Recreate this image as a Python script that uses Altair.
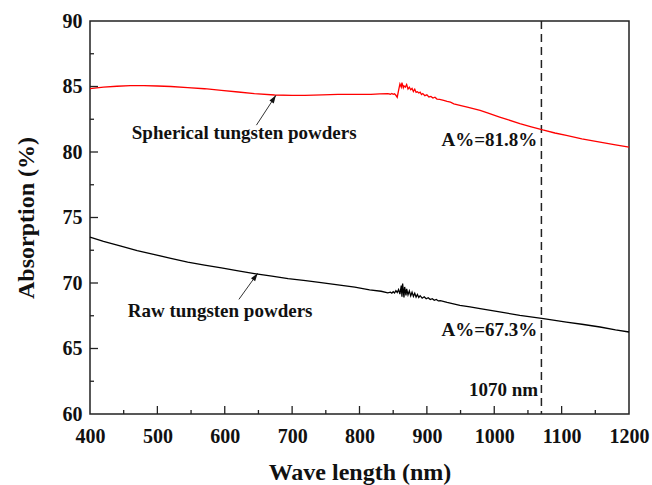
import altair as alt
import pandas as pd

# ---- data ----
red_wl = [400, 420, 440, 460, 480, 500, 520, 545, 570, 595, 620, 644, 674, 700, 719, 745, 768, 790, 817, 830, 842,
          846, 848, 850, 852, 854, 856, 858, 860, 862, 863, 865, 866, 868, 870, 872, 874, 876, 878, 880, 882, 884,
          886, 888, 890, 892, 894, 897, 900, 903, 906, 909, 912, 915, 919, 925, 930, 935, 940, 949, 960, 979, 990,
          1008, 1020, 1038, 1055, 1072, 1090, 1107, 1130, 1157, 1180, 1200]
red_abs = [84.84, 84.95, 85.02, 85.06, 85.07, 85.04, 85.0, 84.92, 84.83, 84.71, 84.58, 84.45, 84.35, 84.33, 84.33,
           84.36, 84.40, 84.40, 84.40, 84.44, 84.45,
           84.41, 84.47, 84.40, 84.44, 84.33, 84.18, 84.7, 85.2, 84.95, 85.3, 84.9, 85.05, 84.95, 85.15, 84.8, 84.95,
           84.75, 84.85, 84.62, 84.8, 84.55, 84.6, 84.5, 84.56, 84.38, 84.46, 84.3, 84.36, 84.2, 84.24, 84.12, 84.18,
           84.04, 84.02, 83.94, 83.86, 83.8, 83.68, 83.56, 83.42, 83.18, 82.98,
           82.67, 82.47, 82.17, 81.92, 81.68, 81.45, 81.27, 81.00, 80.76, 80.55, 80.38]

black_wl = [400, 420, 446, 470, 496, 520, 545, 570, 595, 620, 644, 670, 694, 720, 743, 768, 793, 815, 832, 842,
            846, 848, 850, 852, 854, 856, 858, 860, 862, 863, 864, 866, 867, 869, 870, 872, 874, 876, 878, 880, 882,
            884, 886, 888, 890, 893, 896, 899, 902, 905, 908, 911, 914, 917, 920, 930, 949, 964, 979, 1008, 1038,
            1073, 1107, 1130, 1157, 1180, 1200]
black_abs = [73.5, 73.18, 72.82, 72.48, 72.17, 71.88, 71.6, 71.37, 71.15, 70.93, 70.72, 70.52, 70.33, 70.18, 70.03,
             69.86, 69.69, 69.48, 69.37, 69.25,
             69.3, 69.22, 69.33, 69.24, 69.42, 69.28, 69.5, 69.15, 69.8, 68.95, 69.95, 68.9, 69.7, 69.05, 69.55, 69.1,
             69.4, 69.02, 69.3, 68.98, 69.22, 68.92, 69.12, 68.9, 69.03, 68.84, 68.95, 68.8, 68.88, 68.74, 68.8,
             68.68, 68.74, 68.63, 68.65, 68.52, 68.3, 68.17, 68.04, 67.79, 67.53,
             67.28, 67.02, 66.85, 66.64, 66.42, 66.26]

series_names = ["Spherical tungsten powders", "Raw tungsten powders"]
series_colors = ["#ff0000", "#000000"]

x_ticks = [400, 500, 600, 700, 800, 900, 1000, 1100, 1200]
y_ticks = [60, 65, 70, 75, 80, 85, 90]
x_major_inner = [500, 600, 700, 800, 900, 1000, 1100]
x_minor_inner = [450, 550, 650, 750, 850, 950, 1050, 1150]
y_major_inner = [65, 70, 75, 80, 85]
y_minor_inner = [62.5, 67.5, 72.5, 77.5, 82.5, 87.5]

marker_wl = [1070]

left_labels = ["Spherical tungsten powders", "Raw tungsten powders"]
left_label_x = [462, 456]
left_label_y = [81.45, 67.84]

right_labels = ["A%=81.8%", "A%=67.3%", "1070 nm"]
right_label_x = [1064, 1064, 1065]
right_label_y = [80.89, 66.42, 61.81]

arrow_x_tail = [647, 621]
arrow_y_tail = [82.05, 68.75]
arrow_x_tip = [676, 649]
arrow_y_tip = [84.33, 70.75]
arrow_angle = [33, 36]

# ---- tables ----
curves = pd.concat([
    pd.DataFrame({"wl": red_wl, "a": red_abs, "s": series_names[0]}),
    pd.DataFrame({"wl": black_wl, "a": black_abs, "s": series_names[1]}),
])
W, H = 539, 393
FONT = "Liberation Serif"
XT = "Wave length (nm)"
YT = "Absorption (%)"

xs = alt.Scale(domain=[400, 1200], nice=False, zero=False)
ys = alt.Scale(domain=[60, 90], nice=False, zero=False)
xaxis = alt.Axis(values=x_ticks, format="d", labelOverlap=False, labelFlush=False,
                 ticks=False, tickSize=0, domain=False, grid=False,
                 labelPadding=12, titleY=46, titleBaseline="top")
yaxis = alt.Axis(values=y_ticks, format="d", labelOverlap=False, labelFlush=False,
                 ticks=False, tickSize=0, domain=False, grid=False,
                 labelPadding=8, titleX=-52)


def X(field):
    return alt.X(field, scale=xs, title=XT, axis=xaxis)


def Y(field):
    return alt.Y(field, scale=ys, title=YT, axis=yaxis)


lines = alt.Chart(curves).mark_line(strokeWidth=1.3).encode(
    x=X("wl:Q"), y=Y("a:Q"),
    color=alt.Color("s:N", scale=alt.Scale(domain=series_names, range=series_colors), legend=None),
    detail="s:N",
)


def xtick_layer(vals, length):
    return alt.Chart(pd.DataFrame({"wl": vals})).mark_rule(color="#222", strokeWidth=1.3).encode(
        x=X("wl:Q"), y=alt.value(H), y2=alt.value(H - length))


def ytick_layer(vals, length):
    return alt.Chart(pd.DataFrame({"a": vals})).mark_rule(color="#222", strokeWidth=1.3).encode(
        y=Y("a:Q"), x=alt.value(0), x2=alt.value(length))


dash = alt.Chart(pd.DataFrame({"wl": marker_wl})).mark_rule(
    color="#222", strokeWidth=1.5, strokeDash=[8, 5]).encode(x=X("wl:Q"))

ltext = alt.Chart(pd.DataFrame({"wl": left_label_x, "a": left_label_y, "t": left_labels})).mark_text(
    align="left", baseline="middle", font=FONT, fontWeight="bold", fontSize=19, color="#111").encode(
    x=X("wl:Q"), y=Y("a:Q"), text="t:N")

rtext = alt.Chart(pd.DataFrame({"wl": right_label_x, "a": right_label_y, "t": right_labels})).mark_text(
    align="right", baseline="middle", font=FONT, fontWeight="bold", fontSize=19, color="#111").encode(
    x=X("wl:Q"), y=Y("a:Q"), text="t:N")

arrows_df = pd.DataFrame({"wl": arrow_x_tail, "a": arrow_y_tail, "wl2": arrow_x_tip, "a2": arrow_y_tip,
                          "ang": arrow_angle})
arrow_lines = alt.Chart(arrows_df).mark_rule(color="#333", strokeWidth=1).encode(
    x=X("wl:Q"), y=Y("a:Q"), x2="wl2:Q", y2="a2:Q")
arrow_heads = alt.Chart(arrows_df).mark_point(
    shape="M0,0 L-0.32,1 L0.32,1 Z", filled=True, color="#111", size=256, opacity=1).encode(
    x=X("wl2:Q"), y=Y("a2:Q"),
    angle=alt.Angle("ang:Q", scale=None))

chart = alt.layer(
    dash, lines,
    xtick_layer(x_major_inner, 8), xtick_layer(x_minor_inner, 4),
    ytick_layer(y_major_inner, 8), ytick_layer(y_minor_inner, 4),
    arrow_lines, arrow_heads, ltext, rtext,
).properties(
    width=W, height=H,
    autosize=alt.AutoSizeParams(type="none"),
    padding={"left": 90, "top": 21, "right": 23, "bottom": 71},
    background="white",
).configure_view(
    stroke="#222", strokeWidth=1.5
).configure_axis(
    labelFont=FONT, labelFontWeight="bold", labelFontSize=20, labelColor="#111",
    titleFont=FONT, titleFontWeight="bold", titleFontSize=24, titleColor="#111",
)

chart.save("out.html", embed_options={"renderer": "svg", "actions": False})
